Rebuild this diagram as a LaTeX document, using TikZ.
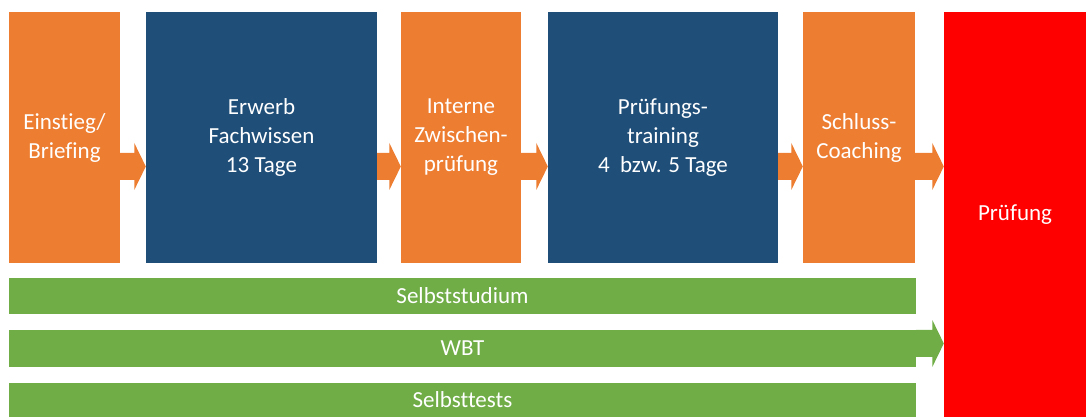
\documentclass[tikz,border=0pt]{standalone}
\usepackage{fontspec}
\setmainfont{Carlito}[Ligatures=NoCommon]
\definecolor{cOrange}{HTML}{ED7D31}
\definecolor{cBlue}{HTML}{1F4E79}
\definecolor{cGreen}{HTML}{70AD47}
\definecolor{cRed}{HTML}{FF0000}
\newcommand\blockarrow[4]{% from, to, center y, colour
  \fill[#4] let \p1=(#1.east), \p2=(#2.west) in
    (\x1,#3pt+13.5pt) -- (\x2-11.5pt,#3pt+13.5pt) -- (\x2-11.5pt,#3pt+23.5pt) -- (\x2,#3pt)
    -- (\x2-11.5pt,#3pt-23.5pt) -- (\x2-11.5pt,#3pt-13.5pt) -- (\x1,#3pt-13.5pt) -- cycle;}
\usetikzlibrary{calc}
\begin{document}
\begin{tikzpicture}[x=1pt,y=1pt,
  box/.style={inner sep=0pt, text=white, align=center, font=\fontsize{23}{29}\selectfont},
  topbox/.style={box, minimum height=251pt},
  bar/.style={box, fill=cGreen, minimum width=907pt}]
\useasboundingbox (0,0) rectangle (1086,417);
\node[topbox, fill=cOrange, minimum width=111pt] (b1) at (64.5,279.5) {Einstieg/\\Briefing};
\node[topbox, fill=cBlue, minimum width=231pt] (b2) at (261.5,279.5) {Erwerb\\Fachwissen\\13 Tage};
\node[topbox, fill=cOrange, minimum width=120pt] (b3) at (461,279.5) {Interne\\Zwischen-\\prüfung};
\node[topbox, fill=cBlue, minimum width=230pt] (b4) at (663,279.5) {Prüfungs-\\training\\4~ bzw. 5 Tage};
\node[topbox, fill=cOrange, minimum width=112pt] (b5) at (859,279.5) {Schluss-\\Coaching};
\node[box, fill=cRed, minimum width=142pt, minimum height=405pt] (p) at (1015,202.5) {Prüfung};
\node[bar, minimum height=36pt] (s1) at (462.5,121) {Selbststudium};
\node[bar, minimum height=37pt] (s2) at (462.5,68.5) {WBT};
\node[bar, minimum height=34pt] (s3) at (462.5,17) {Selbsttests};
\blockarrow{b1}{b2}{250.5}{cOrange}
\blockarrow{b2}{b3}{250.5}{cOrange}
\blockarrow{b3}{b4}{250.5}{cOrange}
\blockarrow{b4}{b5}{250.5}{cOrange}
\blockarrow{b5}{p}{250.5}{cOrange}
\blockarrow{s2}{p}{73.5}{cGreen}
\end{tikzpicture}
\end{document}
